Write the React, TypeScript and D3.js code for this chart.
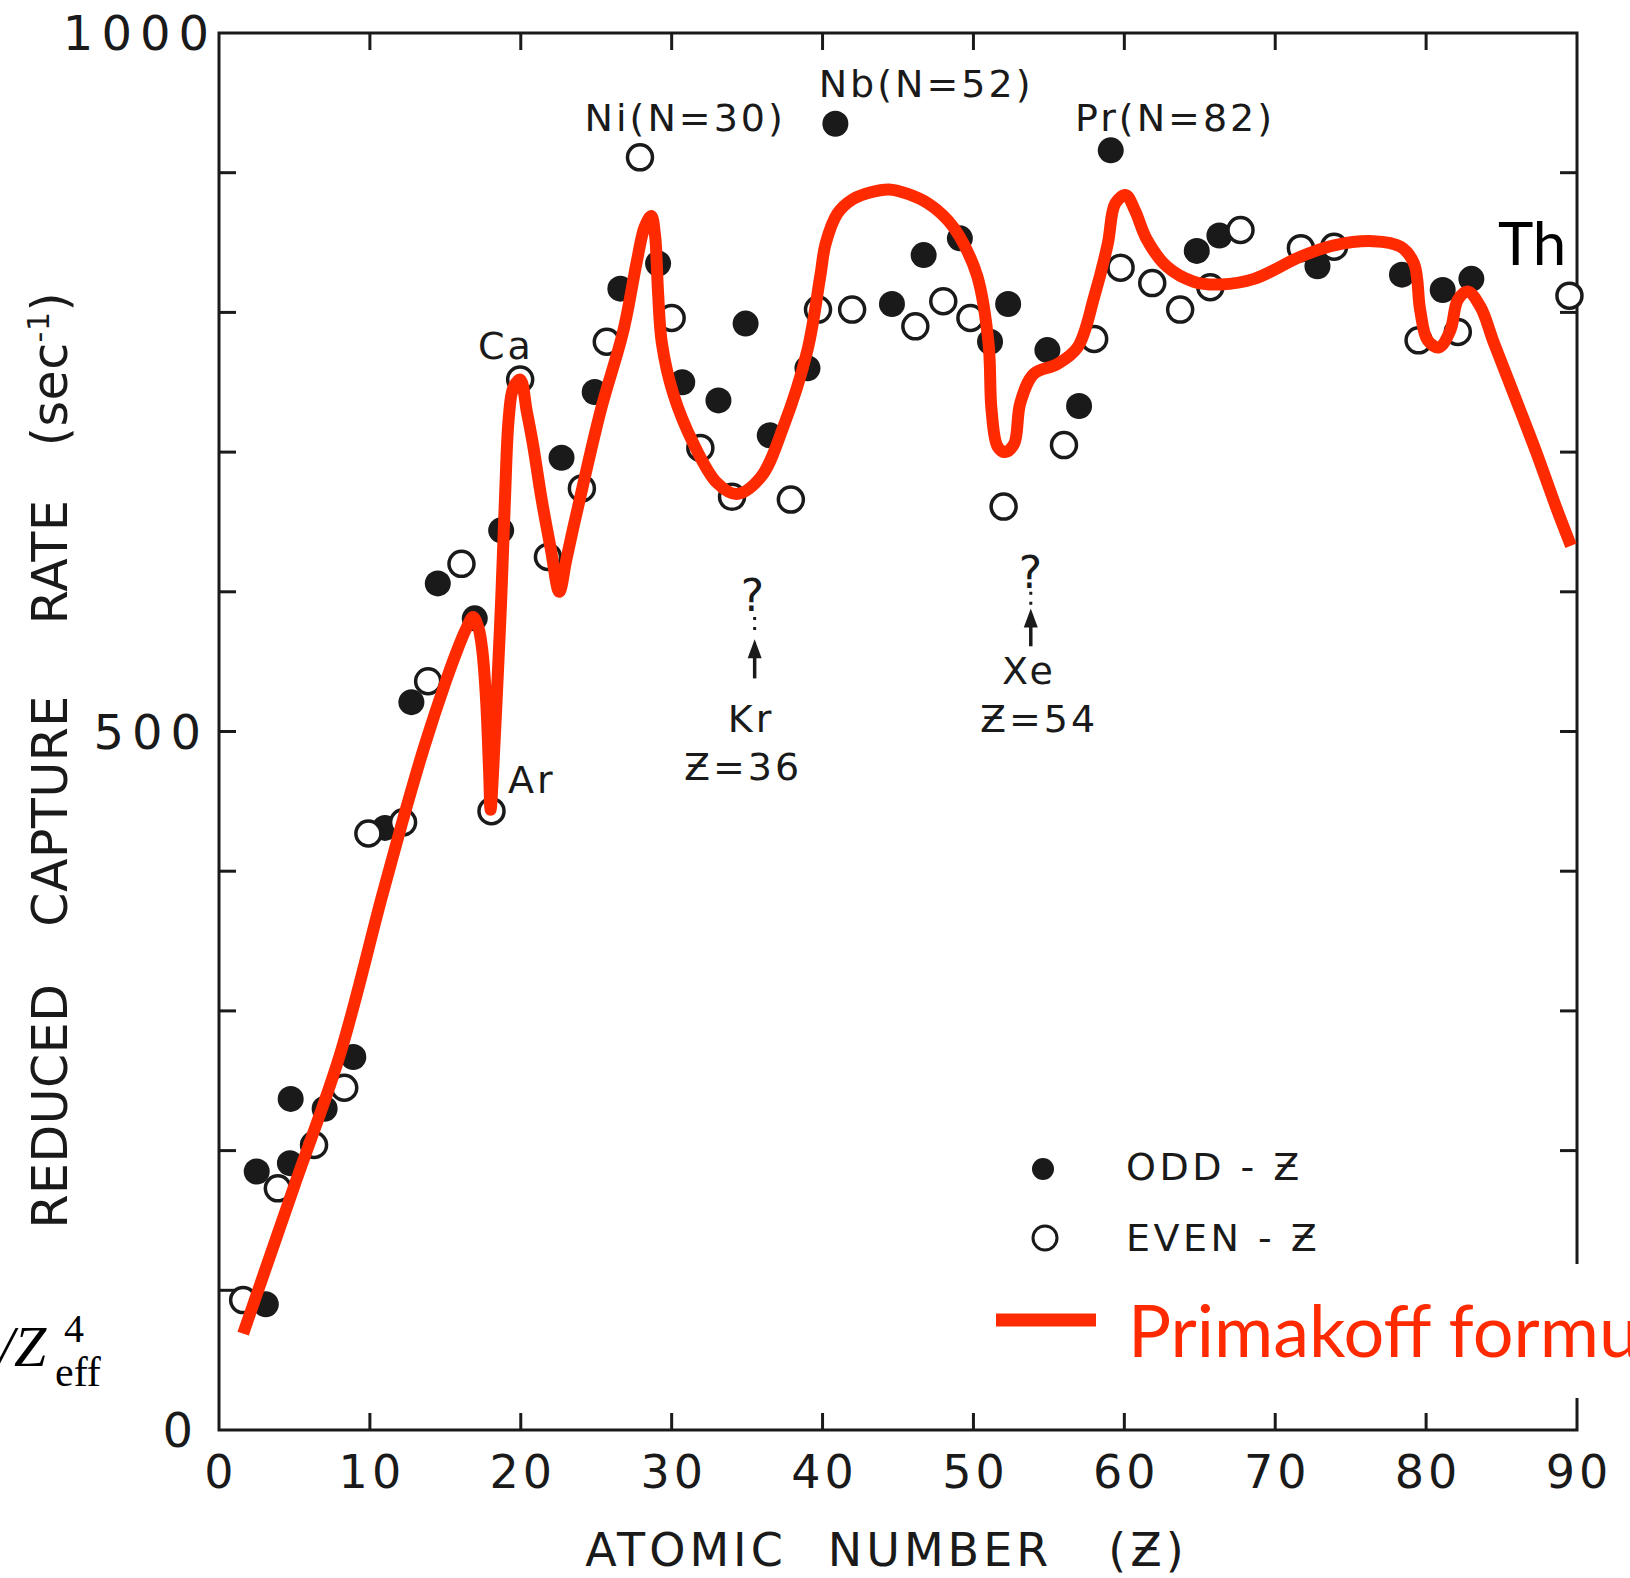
import * as d3 from 'd3'

// reduced capture rate (sec^-1) vs atomic number
const ODD_Z: [number, number][] = [
  [3.1, 90], [2.5, 185], [4.7, 191], [4.75, 237], [7.0, 230], [8.9, 267],
  [11.0, 431], [12.75, 521], [14.5, 606], [16.95, 581], [18.7, 644],
  [22.7, 696], [24.9, 743], [26.6, 817], [29.1, 835], [30.7, 750], [33.1, 737],
  [34.9, 792], [36.5, 712], [39.0, 760], [40.85, 935], [44.6, 806],
  [46.7, 841], [49.1, 853], [51.1, 779], [52.3, 806], [54.9, 773], [57.0, 733],
  [59.1, 916], [64.8, 844], [66.3, 855],
  [72.8, 833], [78.4, 827], [81.1, 816], [83.0, 824],
]

const EVEN_Z: [number, number][] = [
  [1.6, 93], [3.9, 173], [6.3, 204], [8.3, 245],
  [9.9, 427], [12.2, 435], [13.86, 536], [16.07, 620], [18.06, 443], [21.8, 625],
  [19.96, 752], [24.05, 674], [25.7, 779], [27.9, 911], [30.0, 796], [31.9, 703],
  [34.0, 668], [37.9, 666], [39.7, 802], [41.96, 802],
  [46.15, 790], [48.0, 808], [49.8, 796], [52.0, 661], [56.0, 705], [58.0, 781],
  [59.75, 832], [61.85, 821], [63.7, 802], [65.7, 818], [67.7, 859],
  [71.7, 846], [73.9, 847], [79.5, 780], [82.1, 786], [89.5, 812],
]

// Primakoff formula curve
const PRIMAKOFF: [number, number][] = [
  [1.6, 69], [5.0, 175], [8.0, 268], [10.8, 382], [12.3, 441], [13.6, 489],
  [15.0, 535], [15.85, 560], [16.4, 574], [16.84, 582], [17.2, 574], [17.45, 558],
  [17.7, 523], [17.9, 472], [18.0, 444], [18.15, 468], [18.4, 523], [18.7, 594],
  [18.95, 666], [19.2, 724], [19.5, 746], [19.96, 752], [20.4, 729], [20.8, 706],
  [21.4, 665], [22.0, 630], [22.55, 600], [23.0, 622], [23.4, 642], [23.8, 661],
  [25.3, 730], [26.8, 787], [27.7, 837], [28.2, 861], [28.65, 869], [28.9, 855],
  [29.0, 838], [29.1, 814], [29.35, 778], [30.1, 742], [31.45, 706], [33.0, 678],
  [34.3, 670], [35.9, 682], [37.4, 718], [39.0, 773], [39.85, 826], [40.2, 849],
  [41.0, 871], [42.0, 881], [43.2, 886], [44.4, 888], [45.6, 885], [47.0, 878],
  [48.3, 866], [49.1, 854], [50.25, 826], [51.0, 778], [51.2, 730], [51.6, 704],
  [52.1, 700], [52.7, 706], [53.1, 735], [54.0, 756], [55.55, 763], [56.9, 775],
  [58.0, 811], [58.9, 849], [59.4, 878], [60.1, 884], [60.7, 873], [61.5, 852],
  [62.8, 833], [64.6, 822], [66.4, 820], [68.6, 824], [71.7, 840], [73.9, 848],
  [76.5, 851], [78.3, 847], [79.2, 835], [79.6, 802], [80.1, 780], [80.85, 775],
  [81.6, 787], [82.1, 809], [82.75, 815], [83.6, 804], [84.5, 778], [86.05, 735],
  [87.4, 697], [88.6, 661], [89.6, 633],
]

const X_TICKS = [10, 20, 30, 40, 50, 60, 70, 80]
const Y_TICKS = [100, 200, 300, 400, 500, 600, 700, 800, 900]
const X_LABELS = [0, 10, 20, 30, 40, 50, 60, 70, 80, 90]
const Y_LABELS = [0, 500, 1000]

// text labels in data units: [text, Z, value, anchor]
const LABELS: [string, number, number, string][] = [
  ['Ni(N=30)', 30.9, 930, 'middle'],
  ['Nb(N=52)', 46.86, 954, 'middle'],
  ['Pr(N=82)', 63.36, 930, 'middle'],
  ['Ca', 19.02, 767, 'middle'],
  ['Ar', 19.16, 456, 'start'],
  ['Kr', 35.26, 500, 'middle'],
  ['Ƶ=36', 34.73, 465, 'middle'],
  ['Xe', 53.68, 534, 'middle'],
  ['Ƶ=54', 54.35, 500, 'middle'],
]
const QUERIES: [number, number][] = [[35.46, 586], [53.88, 603]]

// arrows under the "?" marks: [Z, dotted top, tip, bottom]
const ARROWS: [number, number, number, number][] = [
  [35.5, 582, 566, 538],
  [53.8, 600, 588, 561],
]

const RED = '#ff2a00'
const INK = '#1a1a1a'
const FIG = '"DejaVu Sans", sans-serif'
const MODERN = 'Lato, "Noto Sans", sans-serif'

export default function App() {
  const W = 1630
  const H = 1578
  const x = d3.scaleLinear().domain([0, 90]).range([219, 1577])
  const y = d3.scaleLinear().domain([0, 1000]).range([1430, 33])
  const tick = 17

  const line = d3.line<[number, number]>()
    .x(d => x(d[0]))
    .y(d => y(d[1]))
    .curve(d3.curveCatmullRom.alpha(0.5))

  const legendX = 1043
  return (
    <>
      <style>{'body{margin:0}'}</style>
      <svg width={W} height={H} style={{ display: 'block', background: '#fff', overflow: 'hidden' }}>
        {/* frame */}
        <rect x={x(0)} y={y(1000)} width={x(90) - x(0)} height={y(0) - y(1000)}
          fill="none" stroke={INK} strokeWidth={3} />
        {X_TICKS.map(t => (
          <g key={'xt' + t} stroke={INK} strokeWidth={3}>
            <line x1={x(t)} x2={x(t)} y1={y(0)} y2={y(0) - tick} />
            <line x1={x(t)} x2={x(t)} y1={y(1000)} y2={y(1000) + tick} />
          </g>
        ))}
        {Y_TICKS.map(t => (
          <g key={'yt' + t} stroke={INK} strokeWidth={3}>
            <line x1={x(0)} x2={x(0) + tick} y1={y(t)} y2={y(t)} />
            <line x1={x(90)} x2={x(90) - tick} y1={y(t)} y2={y(t)} />
          </g>
        ))}

        {/* tick labels */}
        <g fontFamily={FIG} fill={INK}>
          {X_LABELS.map(t => (
            <text key={'xl' + t} x={x(t) + 2} y={1488} fontSize={46} letterSpacing={4}
              textAnchor="middle">{t}</text>
          ))}
          {Y_LABELS.map(t => (
            <text key={'yl' + t} x={t === 0 ? 201 : t === 1000 ? 217 : 209} y={y(t)} dy="0.36em"
              fontSize={48} letterSpacing={8} textAnchor="end">{t}</text>
          ))}
        </g>

        {/* axis titles */}
        <g fontFamily={FIG} fill={INK} fontSize={46} letterSpacing={4} textAnchor="middle">
          <text x={686} y={1566}>ATOMIC</text>
          <text x={940} y={1566}>NUMBER</text>
          <text x={1148} y={1566}>(Ƶ)</text>
        </g>
        <g fontFamily={FIG} fill={INK} fontSize={49} letterSpacing={0.5} textAnchor="middle">
          <text transform="translate(67,1106) rotate(-90)">REDUCED</text>
          <text transform="translate(67,811) rotate(-90)">CAPTURE</text>
          <text transform="translate(67,562) rotate(-90)">RATE</text>
          <text transform="translate(67,369) rotate(-90)">
            (sec<tspan fontSize={30} dy={-18}>-1</tspan><tspan dy={18}>)</tspan>
          </text>
        </g>

        {/* data */}
        {ODD_Z.map((d, i) => (
          <circle key={'o' + i} cx={x(d[0])} cy={y(d[1])} r={13} fill={INK} />
        ))}
        {EVEN_Z.map((d, i) => (
          <circle key={'e' + i} cx={x(d[0])} cy={y(d[1])} r={12.5} fill="#fff"
            stroke={INK} strokeWidth={3.5} />
        ))}

        {/* annotations */}
        <g fontFamily={FIG} fill={INK} fontSize={38} letterSpacing={3}>
          {LABELS.map((l, i) => (
            <text key={'l' + i} x={x(l[1])} y={y(l[2])} textAnchor={l[3]}>{l[0]}</text>
          ))}
          {QUERIES.map((q, i) => (
            <text key={'q' + i} x={x(q[0])} y={y(q[1])} fontSize={44} textAnchor="middle">?</text>
          ))}
        </g>
        {ARROWS.map((a, i) => (
          <g key={'a' + i} stroke={INK} fill={INK}>
            <line x1={x(a[0])} x2={x(a[0])} y1={y(a[1])} y2={y(a[2]) - 3}
              strokeWidth={3} strokeDasharray="3,7" />
            <line x1={x(a[0])} x2={x(a[0])} y1={y(a[2]) + 8} y2={y(a[3])} strokeWidth={3.5} />
            <path d={`M${x(a[0])},${y(a[2])} l-7,19 l14,0 z`} stroke="none" />
          </g>
        ))}

        {/* Primakoff curve */}
        <path d={line(PRIMAKOFF) ?? ''} fill="none" stroke={RED} strokeWidth={12}
          strokeLinejoin="round" />

        {/* legend */}
        <circle cx={legendX} cy={1169} r={11} fill={INK} />
        <circle cx={legendX + 2} cy={1238} r={12} fill="none" stroke={INK} strokeWidth={3} />
        <g fontFamily={FIG} fill={INK} fontSize={38} letterSpacing={3.5}>
          <text x={1126} y={1180}>ODD - Ƶ</text>
          <text x={1126} y={1251}>EVEN - Ƶ</text>
        </g>
        <rect x={960} y={1264} width={W - 960} height={134} fill="#fff" />
        <line x1={996} x2={1096} y1={1320} y2={1320} stroke={RED} strokeWidth={13} />
        <text x={1128} y={1357} fontFamily={MODERN} fontSize={72} fill={RED}>Primakoff formula</text>

        <text x={x(84.76)} y={y(834)} fontFamily={MODERN} fontSize={60} fill="#000">Th</text>

        {/* left label, clipped by the page edge as in the source */}
        <g fontFamily='"Liberation Serif", serif' fill="#000">
          <text x={-2} y={1366} fontSize={58} fontStyle="italic">/Z</text>
          <text x={64} y={1342} fontSize={40}>4</text>
          <text x={55} y={1386} fontSize={42}>eff</text>
        </g>
      </svg>
    </>
  )
}
